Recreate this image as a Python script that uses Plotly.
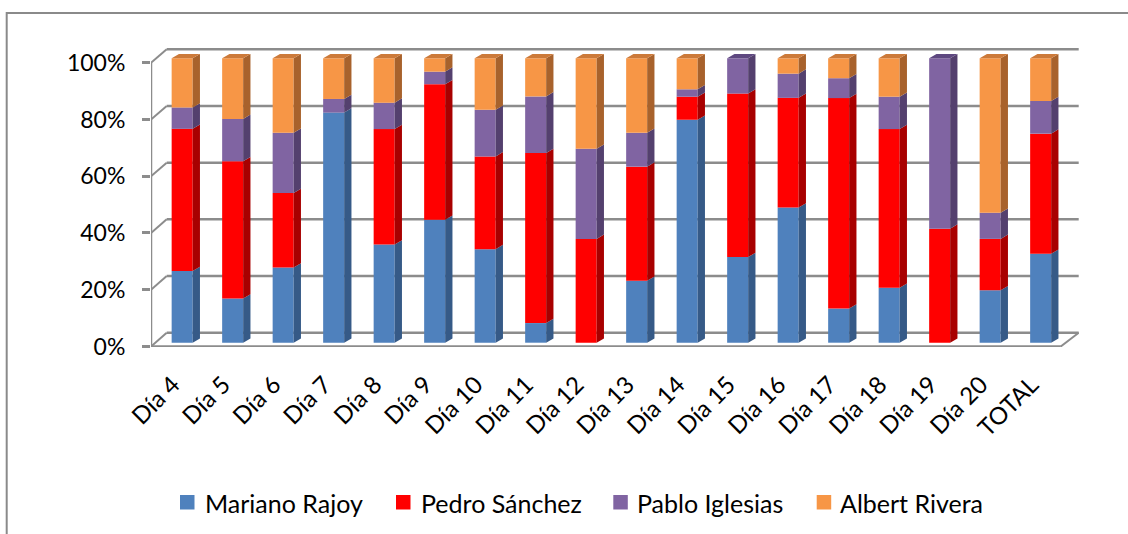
import plotly.graph_objects as go

categories = ["Día 4", "Día 5", "Día 6", "Día 7", "Día 8", "Día 9", "Día 10", "Día 11",
              "Día 12", "Día 13", "Día 14", "Día 15", "Día 16", "Día 17", "Día 18",
              "Día 19", "Día 20", "TOTAL"]
rajoy = [25.2, 15.5, 26.4, 80.9, 34.5, 43.2, 32.9, 6.9, 0, 21.8, 78.4, 30.1, 47.5, 12.0, 19.3, 0, 18.4, 31.3]
sanchez = [50.0, 48.3, 26.2, 0, 40.6, 47.7, 32.6, 59.8, 36.5, 40.1, 8.1, 57.5, 38.6, 74.0, 55.8, 40.1, 18.1, 42.2]
iglesias = [7.5, 14.9, 21.2, 4.8, 9.3, 4.4, 16.4, 19.9, 31.7, 11.9, 2.6, 12.4, 8.5, 7.0, 11.4, 59.9, 9.2, 11.5]
rivera = [17.3, 21.3, 26.2, 14.3, 15.6, 4.7, 18.1, 13.4, 31.8, 26.2, 10.9, 0, 5.4, 7.0, 13.5, 0, 54.3, 15.0]
series_names = ["Mariano Rajoy", "Pedro Sánchez", "Pablo Iglesias", "Albert Rivera"]
y_ticks = [0, 20, 40, 60, 80, 100]
y_ticktext = ["0%", "20%", "40%", "60%", "80%", "100%"]

front_colors = ["#4F81BD", "#FF0000", "#8064A2", "#F79646"]
side_colors = ["#365A87", "#A80000", "#54406E", "#A8622C"]
top_colors = ["#3F6BA3", "#C80000", "#5E4880", "#CC7A3A"]

W, H = 1128, 534
PL, PR, PT, PB = 151, 1079, 40, 347  # plot area in pixels
FONT = "Lato, 'Open Sans', sans-serif"

# pixel <-> data helpers (layout geometry)
BAND0, BAND = 151.7, 50.5
Y0PIX, YSCALE = 342.7, 2.844          # bar front face: value -> pixel


def xd(px):
    return (px - BAND0) / BAND - 0.5


def yd(py):
    return (Y0PIX - py) / YSCALE


def xp(px):
    return (px - PL) / (PR - PL)


def yp(py):
    return (PB - py) / (PB - PT)


def front_axis_pix(v):
    return 346.5 - 2.838 * v


def back_wall_pix(v):
    return 332.7 - 2.834 * v


BAR_OFF, BAR_W = -0.105, 0.416
DX, DY = 7.3 / BAND, 4.3 / YSCALE

series = [rajoy, sanchez, iglesias, rivera]
n = len(categories)
xs = list(range(n))

fig = go.Figure()

cum = [0.0] * n
bases = []
for s in series:
    bases.append(list(cum))
    cum = [c + v for c, v in zip(cum, s)]

for k, s in enumerate(series):
    fig.add_trace(go.Bar(
        x=xs, y=s, base=bases[k], width=BAR_W, offset=BAR_OFF,
        name=series_names[k], marker=dict(color=front_colors[k], line=dict(width=0)),
        hoverinfo="skip", showlegend=False))

# side faces and top faces (3D effect), computed from the data
for k, s in enumerate(series):
    px_, py_ = [], []
    for i in range(n):
        if s[i] <= 0:
            continue
        b, t = bases[k][i], bases[k][i] + s[i]
        xr = i + BAR_OFF + BAR_W
        px_ += [xr, xr + DX, xr + DX, xr, xr, None]
        py_ += [b, b + DY, t + DY, t, b, None]
    fig.add_trace(go.Scatter(x=px_, y=py_, mode="lines", fill="toself",
                             fillcolor=side_colors[k], line=dict(width=0),
                             showlegend=False, hoverinfo="skip"))
    tx, ty = [], []
    for i in range(n):
        if s[i] <= 0:
            continue
        later = sum(series[j][i] for j in range(k + 1, len(series)))
        if later > 0:
            continue
        t = bases[k][i] + s[i]
        xl = i + BAR_OFF
        xr = xl + BAR_W
        tx += [xl, xl + DX, xr + DX, xr, xl, None]
        ty += [t, t + DY, t + DY, t, t, None]
    if tx:
        fig.add_trace(go.Scatter(x=tx, y=ty, mode="lines", fill="toself",
                                 fillcolor=top_colors[k], line=dict(width=0),
                                 showlegend=False, hoverinfo="skip"))

GRID = "#8C8C8C"
shapes = []
annotations = []
# back wall gridlines + left diagonals
for v in y_ticks:
    yb = yd(back_wall_pix(v))
    yf = yd(front_axis_pix(v))
    shapes.append(dict(type="line", xref="x", yref="y", x0=xd(166.7), x1=xd(1078.7),
                       y0=yb, y1=yb, line=dict(color=GRID, width=2.5), layer="below"))
    shapes.append(dict(type="line", xref="x", yref="y", x0=xd(151), x1=xd(166.7),
                       y0=yf, y1=yb, line=dict(color=GRID, width=2), layer="below"))
# front axis vertical line
shapes.append(dict(type="line", xref="x", yref="y", x0=xd(151), x1=xd(151),
                   y0=yd(front_axis_pix(100)), y1=yd(354), line=dict(color=GRID, width=2.5)))
# floor front edge and right diagonal
shapes.append(dict(type="line", xref="x", yref="y", x0=xd(151), x1=n - 0.5,
                   y0=yd(346.5), y1=yd(346.5), line=dict(color=GRID, width=2.5), layer="below"))
shapes.append(dict(type="line", xref="x", yref="y", x0=n - 0.5, x1=xd(1078.7),
                   y0=yd(346.5), y1=yd(back_wall_pix(0)), line=dict(color=GRID, width=2), layer="below"))
# category boundary ticks
for i in range(n + 1):
    shapes.append(dict(type="line", xref="x", yref="y", x0=i - 0.5, x1=i - 0.5,
                       y0=yd(346.5), y1=yd(354.5), line=dict(color=GRID, width=2.5)))
# outer chart border (cropped at right and bottom)
shapes.append(dict(type="rect", xref="paper", yref="paper", x0=xp(6.7), x1=xp(1140),
                   y0=yp(545), y1=yp(13), line=dict(color="#8A8A8A", width=2),
                   fillcolor="rgba(0,0,0,0)"))

# legend (symbol squares + labels)
legend_sym_x = [180, 396, 613.3, 816.7]
legend_txt_x = [202.7, 418.7, 635, 838.3]
for k, name in enumerate(series_names):
    shapes.append(dict(type="rect", xref="paper", yref="paper",
                       x0=xp(legend_sym_x[k]), x1=xp(legend_sym_x[k] + 14.5),
                       y0=yp(509.5), y1=yp(495), line=dict(width=0),
                       fillcolor=front_colors[k]))
    annotations.append(dict(xref="paper", yref="paper", x=xp(legend_txt_x[k]), y=yp(502.5),
                            xanchor="left", yanchor="middle", showarrow=False, text=name,
                            font=dict(family=FONT, size=25, color="black")))

fig.update_layout(
    width=W, height=H,
    margin=dict(l=PL, r=W - PR, t=PT, b=H - PB, autoexpand=False),
    paper_bgcolor="white", plot_bgcolor="white",
    barmode="overlay",
    font=dict(family=FONT, size=24, color="black"),
    shapes=shapes,
    annotations=annotations,
    showlegend=False,
    xaxis=dict(range=[xd(PL), xd(PR)], tickmode="array", tickvals=xs, ticktext=categories,
               tickangle=-45, showgrid=False, zeroline=False, showline=False, ticks="",
               ticklabelstandoff=18, ticklabelshift=-4,
               tickfont=dict(family=FONT, size=24, color="black"), fixedrange=True),
    yaxis=dict(range=[yd(PB), yd(PT)], tickmode="array",
               tickvals=[yd(front_axis_pix(v)) for v in y_ticks], ticktext=y_ticktext,
               showgrid=False, zeroline=False, showline=False, ticks="outside", ticklen=8,
               tickwidth=2.5, tickcolor=GRID, ticklabelstandoff=12,
               tickfont=dict(family=FONT, size=23, color="black"), fixedrange=True),
)

fig.write_html("out.html", config={"displayModeBar": False, "staticPlot": False},
               post_script="document.body.style.margin='0';")
